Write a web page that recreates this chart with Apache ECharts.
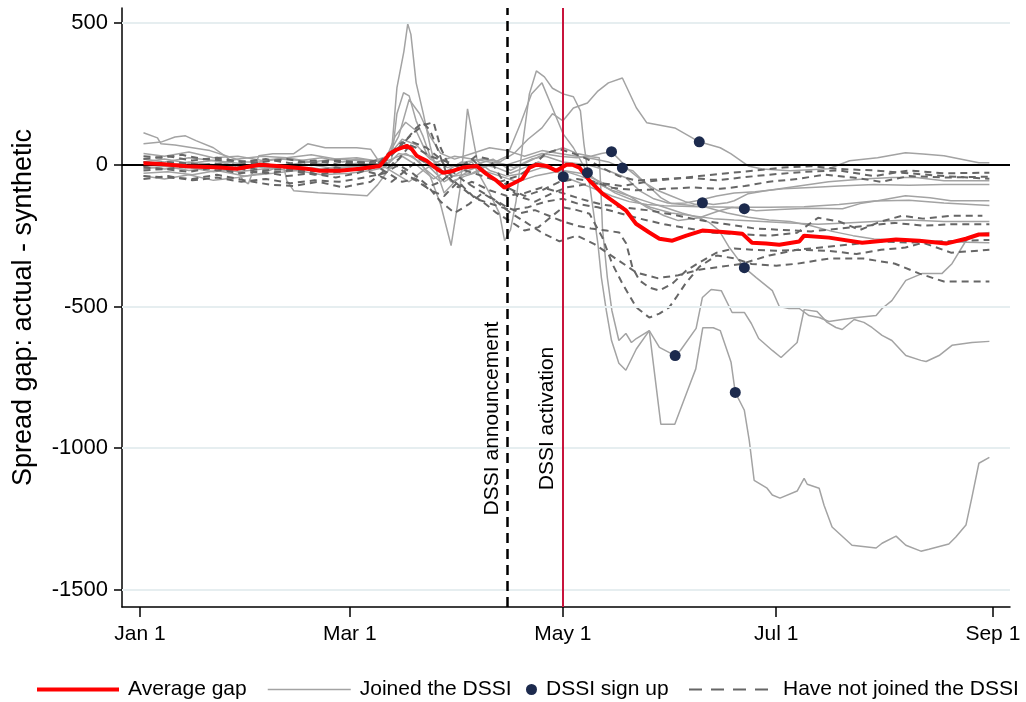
<!DOCTYPE html>
<html><head><meta charset="utf-8">
<script src="https://cdn.jsdelivr.net/npm/echarts@6/dist/echarts.min.js"></script>
<style>html,body{margin:0;padding:0;background:#fff}#c{width:1026px;height:702px}</style>
</head><body><div id="c"></div>
<script>
// x = days since Jan 1 (2020)
const xTickDays = [0, 60, 121, 182, 244];
const xTickLabels = ['Jan 1', 'Mar 1', 'May 1', 'Jul 1', 'Sep 1'];
const yTickValues = [-1500, -1000, -500, 0, 500];
const gridValues = [-1500, -1000, -500, 500];
const announcementDay = 105;
const activationDay = 121;

const averageGap = [[1,5],[6,3],[13.4,-5],[22.9,-10],[27.7,-14],[34.3,0],[39.1,-4],[47.7,-14],[51.4,-21],[57.1,-21],[62.9,-14],[68.6,-4],[71.4,39],[73.4,53],[76.3,67],[77.7,56],[79.1,32],[82,14],[84.9,-14],[86.6,-28],[88.6,-25],[92.3,-10],[96.3,-4],[99.1,-32],[102,-56],[104.3,-81],[106.6,-67],[109.4,-49],[111.4,-10],[113.4,0],[116.3,-4],[119.1,-21],[122,0],[123.7,0],[125.7,-10],[128.6,-56],[132.3,-102],[136.3,-137],[139.1,-162],[141.9,-208],[145.7,-239],[148.6,-261],[152.3,-268],[156.3,-250],[160.9,-232],[168.6,-239],[172.3,-243],[175.1,-275],[179.1,-278],[182.9,-282],[188.6,-271],[190,-250],[197.1,-257],[206.6,-275],[216.3,-264],[222.9,-268],[230.6,-278],[236.3,-261],[240,-246],[243,-246]];

const joined1 = [[1,-30],[8,-25],[15,-35],[22,-20],[30,-40],[38,-30],[45,-20],[52,-35],[60,-30],[66,-20],[70,-10],[74,40],[78,30],[82,-20],[86,-60],[90,-20],[95,10],[100,-100],[102.9,-173],[104.3,-268],[106,-230],[107.6,-127],[109.6,85],[111.4,250],[113.4,331],[115.7,310],[118,270],[121,250],[124,240],[126,190],[127,74],[129,-102],[131,-278],[132,-398],[133.4,-514],[134.9,-620],[137,-700],[139,-725],[142,-650],[145.7,-585],[149,-915],[153,-915],[157,-785],[159,-720],[161,-575],[164,-575],[166,-585],[169.1,-697],[170.3,-803],[172.9,-866],[174.3,-972],[175.7,-1113],[179.4,-1141],[180.9,-1165],[183.1,-1176],[188,-1151],[190,-1106],[190.9,-1127],[194.3,-1141],[195.7,-1201],[198,-1278],[203.7,-1342],[210.6,-1352],[212.3,-1335],[216.3,-1310],[219.1,-1342],[223.4,-1363],[225.7,-1356],[231.4,-1338],[233.4,-1313],[236.3,-1271],[238,-1173],[240,-1053],[243,-1032]];
const joined2 = [[1,74],[6,80],[10,98],[13,102],[16,85],[21,60],[25,25],[27,0],[29.5,-56],[31,-67],[34,32],[38,39],[44,39],[48,74],[53,60],[57,60],[62,60],[66,55],[69,0],[73,-30],[77,-60],[81,-20],[85,10],[90,30],[95,20],[100,10],[105,0],[110,20],[115,40],[120,30],[125,25],[128,30],[131.4,25],[131.9,-100],[132.3,-222],[133.7,-398],[135,-514],[137,-620],[139,-595],[140.6,-627],[142,-613],[145.7,-585],[148.6,-644],[153.1,-673],[154.6,-655],[159.1,-577],[160.9,-468],[163.4,-440],[166.3,-444],[169.4,-521],[172.9,-521],[174.9,-560],[177,-613],[180.9,-655],[183.4,-680],[188,-627],[190,-511],[193.7,-518],[196.6,-556],[199.1,-574],[200.9,-581],[204.3,-546],[207.1,-556],[209.4,-574],[212.3,-602],[215.1,-620],[219.1,-673],[223.4,-690],[224.9,-694],[228.6,-673],[232.3,-637],[238,-627],[243,-623]];
const joined3 = [[1,40],[7,30],[14,45],[21,25],[28,30],[35,15],[42,25],[49,10],[56,20],[62,15],[67,10],[71,30],[75,90],[79,70],[83,20],[88,-10],[93,10],[98,20],[103,10],[107,40],[111,90],[115,130],[118,180],[121,155],[124,200],[128,218],[131,260],[134,289],[138,306],[142,201],[145,148],[153,130],[160,81],[166,60],[169,39],[174,-4],[178,-15],[186,-21],[197,-14],[203,14],[211,25],[219,42],[224,38],[230,32],[240,7],[243,7]];
const joined4 = [[1,-5],[7,-15],[14,-10],[21,-25],[28,-15],[35,-5],[42,-20],[49,-10],[56,-25],[62,-15],[66,-5],[70,10],[73,100],[76,150],[79,120],[82,40],[85,0],[89,-60],[93,-40],[98,-20],[103,-40],[108,-60],[113,-40],[117,-30],[121,-20],[126,-40],[130,-60],[135,-90],[140,-110],[145,-130],[150,-150],[155,-170],[160,-187],[162.9,-204],[165.7,-232],[168.6,-292],[171.4,-338],[172.9,-363],[176.3,-398],[180.9,-444],[182.9,-500],[185.7,-507],[188.6,-507],[191.4,-532],[194.3,-539],[197.1,-553],[200.9,-546],[205.1,-539],[210.6,-532],[212.3,-507],[215.1,-479],[219.1,-408],[223.7,-384],[229.4,-384],[232.3,-349],[236.3,-268],[240,-243],[243,-239]];
const joined5 = [[1,20],[7,10],[14,25],[21,15],[28,5],[35,-10],[42,0],[49,10],[56,-5],[62,5],[67,0],[72,20],[76,40],[80,10],[83,-40],[86,-140],[89,-285],[91.5,-90],[93.7,197],[96.5,14],[100,-20],[105,-40],[110,-30],[115,-10],[121,-20],[126,-30],[130,-50],[135,-80],[140,-110],[145,-150],[150,-180],[154,-197],[160,-187],[165.7,-162],[169.4,-151],[172.9,-155],[176.3,-162],[182.9,-158],[191,-153],[201,-155],[206,-137],[211,-127],[219,-109],[226,-116],[232,-127],[243,-127]];
const joined6 = [[1,-40],[7,-50],[14,-35],[21,-55],[28,-45],[35,-30],[41,0],[42,-56],[44,-92],[51,-99],[56,-102],[65,-109],[68,-70],[71,-20],[75,30],[79,0],[84,-50],[88,-20],[92,10],[97,-10],[102,10],[107,-10],[112,20],[116,30],[121,10],[128,0],[134,-21],[139,-46],[143,-92],[147,-120],[151,-135],[155,-140],[158,-144],[160.9,-134],[164,-140],[168,-134],[170,-127],[174,-102],[179,-92],[185,-81],[189,-74],[197,-60],[207,-50],[215,-45],[222,-45],[230,-56],[243,-56]];
const joined7 = [[1,113],[5,95],[6,74],[10,70],[15,60],[20,50],[25,30],[30,10],[34,10],[40,20],[46,15],[52,25],[58,10],[62,20],[66,15],[70,10],[74,100],[77,230],[80,180],[83,100],[86,40],[90,20],[95,40],[100,60],[105,50],[110,30],[115,50],[120,40],[125,30],[130,20],[134,10],[138,-11],[141,-21],[143,-46],[146,-81],[149,-116],[152,-137],[156,-135],[160,-125],[165,-110],[170,-100],[176,-95],[184,-85],[192,-80],[200,-75],[210,-70],[220,-72],[230,-70],[243,-70]];
const joined8 = [[1,0],[7,-5],[14,10],[21,0],[28,20],[35,30],[42,25],[49,35],[56,20],[62,25],[67,15],[71,30],[75,70],[79,40],[83,-10],[87,-60],[91,-30],[96,0],[101,20],[106,-20],[111,10],[116,40],[121,60],[125,40],[129,30],[132,40],[134.9,46],[137,20],[140,-20],[144,-60],[148,-90],[152,-110],[156,-130],[162,-150],[168,-170],[174,-185],[180,-195],[186,-200],[192,-215],[198,-235],[204,-250],[210,-262],[216,-265],[222,-268],[230,-272],[243,-275]];
const joined9 = [[1,-15],[7,-5],[14,-20],[21,-10],[28,-25],[35,-15],[42,-5],[49,-20],[56,-10],[62,-5],[67,-10],[70,0],[72,50],[73.5,271],[75.5,400],[76.6,497],[77.5,460],[79,289],[81,183],[83,67],[85,-28],[87,-100],[90,-60],[94,-20],[98,0],[102,-10],[106,-30],[110,-10],[114,10],[118,-10],[121.1,-42],[125,-60],[130,-85],[135,-110],[140,-130],[145,-140],[150,-145],[160,-148],[170,-150],[180,-150],[190,-148],[200,-140],[210,-128],[220,-125],[230,-135],[243,-144]];
const joined10 = [[1,10],[7,20],[14,5],[21,15],[28,-5],[35,5],[42,-10],[49,0],[56,-15],[62,-5],[67,5],[70,-5],[72,20],[73.5,180],[75.4,254],[77,243],[79,155],[81,100],[83,30],[86,-20],[90,-40],[95,-30],[100,0],[105,30],[109,150],[112,250],[115,289],[118,200],[121,110],[124,60],[128,-28],[132,-70],[136,-100],[140,-120],[146,-150],[152,-170],[158,-180],[164,-190],[170,-195],[178,-200],[186,-205],[194,-210],[202,-205],[210,-200],[220,-195],[230,-200],[243,-200]];

const notJoined1 = [[1,-40],[8,-45],[15,-50],[22,-35],[30,-55],[37,-70],[44,-75],[51,-60],[58,-80],[62,-70],[66,-60],[70,-20],[74,20],[78,80],[82,60],[86,20],[90,-60],[94,-100],[98,-130],[102,-170],[106,-200],[110,-232],[114,-220],[118,-180],[121,-150],[125,-160],[128.6,-173],[132.3,-257],[135.1,-349],[138,-419],[142,-503],[145.7,-539],[148.6,-525],[151.4,-503],[153.4,-468],[156,-420],[160,-360],[165,-320],[170,-330],[175,-350],[182,-356],[188,-349],[197,-331],[207,-331],[216,-349],[223,-384],[230,-412],[243,-412]];
const notJoined2 = [[1,-20],[7,-15],[14,-25],[21,-10],[28,-30],[35,-25],[42,-40],[49,-30],[56,-45],[62,-30],[67,-10],[71,40],[74,60],[78,110],[81,140],[84,150],[86,60],[89,-20],[93,-60],[97,-90],[101,-120],[105,-150],[109,-170],[113,-160],[117,-180],[121,-200],[125,-215],[129,-225],[133.4,-232],[137.1,-239],[139.1,-278],[140.9,-363],[142.9,-408],[145.7,-433],[148.6,-444],[152.3,-419],[156.3,-373],[160,-345],[165,-310],[170,-295],[175,-300],[182,-303],[190,-300],[198,-305],[205,-315],[212,-300],[219,-292],[224,-275],[232,-310],[243,-300]];
const notJoined3 = [[1,30],[6,25],[12,35],[18,20],[25,15],[32,10],[40,-5],[47,0],[54,15],[60,5],[65,10],[70,20],[75,80],[79,60],[83,30],[88,10],[93,-20],[98,-40],[103,-60],[108,-40],[112,-10],[116,40],[120,55],[124,40],[128,20],[132,-10],[137,-40],[142,-56],[150,-50],[158,-46],[165,-55],[172,-45],[180,-35],[190,-25],[200,-20],[210,-40],[220,-20],[230,-30],[243,-28]];
const notJoined4 = [[1,10],[7,0],[14,-10],[21,5],[28,-5],[35,-20],[42,-15],[49,-25],[56,-10],[62,-20],[67,-5],[72,10],[77,-40],[82,-80],[86,-60],[90,-20],[95,20],[100,-40],[105,-80],[110,-110],[115,-90],[120,-60],[125,-50],[130,-60],[135,-81],[142,-90],[150,-85],[158,-80],[166,-85],[173,-75],[180,-60],[188,-50],[196,-35],[204,-45],[212,-60],[220,-40],[230,-45],[243,-42]];
const notJoined5 = [[1,-10],[8,-15],[15,0],[22,-20],[29,-15],[36,-30],[43,-20],[50,-35],[57,-25],[62,-15],[67,-30],[72,-60],[76,-20],[80,20],[84,-10],[88,-30],[92,-10],[96,30],[100,20],[104,-60],[108,-110],[113,-130],[118,-100],[122,-80],[127,-70],[132,-65],[138,-75],[145,-60],[152,-50],[160,-40],[168,-30],[176,-20],[184,-10],[192,-5],[200,-15],[210,-20],[220,-30],[230,-40],[243,-49]];
const notJoined6 = [[1,-5],[7,10],[14,5],[21,-5],[28,0],[35,10],[42,20],[49,5],[56,15],[62,10],[67,0],[71,-30],[75,-60],[79,-50],[83,-90],[87,-110],[91,-60],[96,-120],[101,-140],[106,-160],[111,-150],[116,-130],[121,-120],[126,-140],[131,-150],[137,-170],[143,-190],[150,-210],[157,-225],[164,-240],[172,-245],[180,-250],[188,-240],[194,-187],[200,-200],[206,-230],[212,-200],[218,-180],[224,-190],[232,-180],[241,-180]];
const notJoined7 = [[1,-50],[8,-40],[15,-55],[22,-45],[29,-60],[36,-50],[43,-65],[50,-55],[57,-60],[62,-50],[66,-40],[70,-30],[74,0],[78,-30],[82,-70],[86,-130],[90,-170],[94,-140],[98,-100],[102,-130],[106,-170],[110,-200],[115,-240],[120,-270],[125,-250],[130,-280],[136,-330],[142,-380],[148,-400],[154,-390],[160,-370],[166,-360],[172,-350],[180,-320],[188,-300],[196,-290],[204,-280],[212,-270],[220,-275],[230,-270],[243,-265]];
const notJoined8 = [[1,20],[8,30],[15,15],[22,25],[29,10],[36,20],[43,5],[50,15],[57,0],[62,10],[67,5],[71,20],[74,60],[77,100],[79,130],[81,150],[83,120],[85,60],[88,-40],[91,-80],[95,-60],[100,-90],[105,-110],[110,-100],[115,-80],[121,-100],[126,-120],[132,-140],[138,-150],[145,-160],[152,-175],[160,-195],[168,-210],[176,-225],[184,-230],[192,-235],[200,-225],[208,-215],[216,-205],[224,-215],[232,-210],[243,-210]];

const signUps = [[121.1,-42],[128,-28],[134.9,46],[138,-11],[160,81],[160.9,-134],[172.9,-155],[172.9,-363],[153.1,-673],[170.3,-803]];

const joinedAll = [joined1, joined2, joined3, joined4, joined5, joined6, joined7, joined8, joined9, joined10];
const notJoinedAll = [notJoined1, notJoined2, notJoined3, notJoined4, notJoined5, notJoined6, notJoined7, notJoined8];

const FONT = "'Liberation Sans', Arial, sans-serif";
const series = [];
series.push({
  name: 'grid', type: 'line', data: [], z: 1, silent: true,
  markLine: { silent: true, symbol: 'none', label: { show: false },
    lineStyle: { color: '#e6eef0', width: 2, type: 'solid' },
    data: gridValues.map(v => ({ yAxis: v })) }
});
series.push({
  name: 'zero', type: 'line', data: [], z: 2, silent: true,
  markLine: { silent: true, symbol: 'none', label: { show: false },
    lineStyle: { color: '#000', width: 2, type: 'solid' },
    data: [{ yAxis: 0 }] }
});
joinedAll.forEach(d => series.push({
  name: 'Joined the DSSI', type: 'line', data: d, symbol: 'none', showSymbol: false, z: 3,
  lineStyle: { color: '#a3a3a3', width: 1.5 }, itemStyle: { color: '#a3a3a3' }
}));
notJoinedAll.forEach(d => series.push({
  name: 'Have not joined the DSSI', type: 'line', data: d, symbol: 'none', showSymbol: false, z: 4,
  lineStyle: { color: '#666666', width: 2, type: [7, 5] }, itemStyle: { color: '#666666' }
}));
series.push({
  name: 'refs', type: 'line', data: [], z: 5, silent: true,
  markLine: { silent: true, symbol: 'none', label: { show: false },
    data: [
      { xAxis: announcementDay, lineStyle: { color: '#000', width: 2.5, type: [10, 6] } },
      { xAxis: activationDay, lineStyle: { color: '#c8143c', width: 2, type: 'solid' } }
    ] }
});
series.push({
  name: 'Average gap', type: 'line', data: averageGap, symbol: 'none', showSymbol: false, z: 6,
  lineStyle: { color: '#ff0000', width: 4 }, itemStyle: { color: '#ff0000' }
});
series.push({
  name: 'DSSI sign up', type: 'scatter', data: signUps, symbol: 'circle', symbolSize: 11, z: 7,
  itemStyle: { color: '#1c2a4d', opacity: 1 }
});
series.push({
  name: 'labels', type: 'scatter', z: 8, silent: true, symbolSize: 0,
  itemStyle: { opacity: 1 },
  data: [[100.7, -895, 'DSSI announcement'], [116.4, -895, 'DSSI activation']],
  label: { show: true, position: 'inside', rotate: 90, formatter: p => p.value[2],
    color: '#000', opacity: 1, fontSize: 21, fontFamily: FONT }
});

const legendBase = { top: 674, orient: 'horizontal', selectedMode: false,
  itemStyle: { opacity: 0 },
  textStyle: { fontSize: 21, color: '#000', fontFamily: FONT, padding: [0, 0, 0, 4] } };

const option = {
  animation: false,
  backgroundColor: '#fff',
  grid: { left: 122, right: 16, top: 8, bottom: 95, containLabel: false, outerBoundsMode: 'none' },
  xAxis: {
    type: 'value', min: -5.15, max: 248.9,
    axisLine: { show: true, onZero: false, lineStyle: { color: '#000', width: 1.5 } },
    axisTick: { show: true, length: 10, lineStyle: { color: '#000', width: 1.5 }, customValues: xTickDays },
    axisLabel: { show: true, customValues: xTickDays, margin: 17, fontSize: 21, color: '#000', fontFamily: FONT,
      formatter: v => { const i = xTickDays.indexOf(v); return i >= 0 ? xTickLabels[i] : ''; } },
    splitLine: { show: false }
  },
  yAxis: {
    type: 'value', min: -1560, max: 553,
    name: 'Spread gap: actual - synthetic', nameLocation: 'middle', nameGap: 85, nameRotate: 90,
    nameMoveOverlap: false,
    nameTextStyle: { fontSize: 27, color: '#000', fontFamily: FONT },
    axisLine: { show: true, onZero: false, lineStyle: { color: '#000', width: 1.5 } },
    axisTick: { show: true, length: 8, lineStyle: { color: '#000', width: 1.5 }, customValues: yTickValues },
    axisLabel: { show: true, customValues: yTickValues, margin: 14, fontSize: 22, color: '#000', fontFamily: FONT,
      formatter: v => String(v) },
    splitLine: { show: false }
  },
  legend: [
    Object.assign({}, legendBase, { data: [{ name: 'Average gap', lineStyle: { width: 4, color: '#ff0000' } }], left: 30, itemWidth: 82, itemHeight: 14 }),
    Object.assign({}, legendBase, { data: [{ name: 'Joined the DSSI', lineStyle: { width: 1.5, color: '#a3a3a3' } }], left: 262, itemWidth: 83, itemHeight: 14 }),
    Object.assign({}, legendBase, { itemStyle: {}, data: [{ name: 'DSSI sign up', icon: 'circle' }], left: 521, itemWidth: 11, itemHeight: 11 }),
    Object.assign({}, legendBase, { data: [{ name: 'Have not joined the DSSI', lineStyle: { width: 2, color: '#666666', type: [13, 9] } }], left: 683, itemWidth: 85, itemHeight: 14 })
  ],
  series: series
};
echarts.init(document.getElementById('c'), null, { renderer: 'canvas' }).setOption(option);
</script></body></html>
